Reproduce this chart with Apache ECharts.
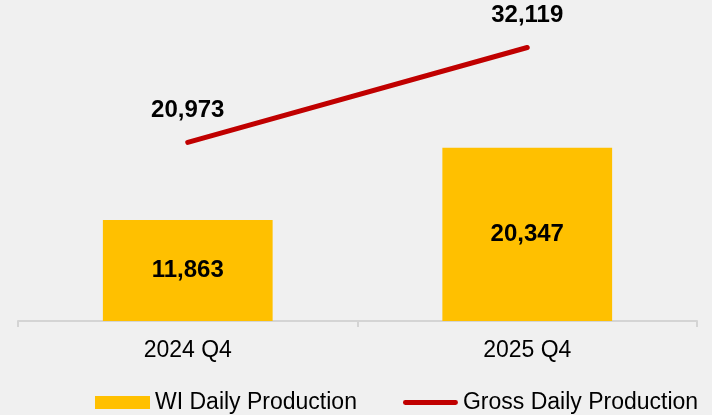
<!DOCTYPE html>
<html>
<head>
<meta charset="utf-8">
<script src="https://cdn.jsdelivr.net/npm/echarts@6/dist/echarts.min.js"></script>
<style>
  html, body { margin: 0; padding: 0; background: #f0f0f0; }
  #chart { width: 712px; height: 415px; }
</style>
</head>
<body>
<div id="chart"></div>
<script>
var categories = ['2024 Q4', '2025 Q4'];
var wiDaily = [11863, 20347];
var grossDaily = [20973, 32119];

var myChart = echarts.init(document.getElementById('chart'));
var fontName = '"Liberation Sans", Arial, sans-serif';
// 圆头线条图例
var lineIcon = 'path://M2.5,0 L54.5,0 A2.5,2.5 0 0 1 54.5,5 L2.5,5 A2.5,2.5 0 0 1 2.5,0 Z';
var option = {
    backgroundColor: '#f0f0f0',
    animation: false,
    grid: { left: 18, right: 15, top: 23, bottom: 94 },
    legend: {
        left: 90,
        top: 386,
        itemGap: 46,
        itemWidth: 55,
        itemHeight: 13,
        symbolKeepAspect: true,
        textStyle: { fontFamily: fontName, fontSize: 23, color: '#000' },
        data: [
            { name: 'WI Daily Production', icon: 'rect' },
            { name: 'Gross Daily Production', icon: lineIcon }
        ]
    },
    xAxis: {
        type: 'category',
        data: categories,
        axisLine: { lineStyle: { color: '#d4d4d4', width: 2 } },
        axisTick: { show: true, length: 6, lineStyle: { color: '#d4d4d4', width: 2 } },
        axisLabel: { fontFamily: fontName, fontSize: 23, color: '#000', margin: 18 }
    },
    yAxis: {
        type: 'value',
        min: 0,
        max: 35000,
        show: false,
        splitLine: { show: false }
    },
    series: [
        {
            name: 'WI Daily Production',
            type: 'bar',
            barWidth: '50%',
            data: wiDaily,
            itemStyle: { color: '#FFC000' },
            label: {
                show: true,
                position: 'inside',
                formatter: function (p) { return p.value.toLocaleString('en-US'); },
                fontFamily: fontName,
                fontSize: 24,
                fontWeight: 'bold',
                color: '#000'
            }
        },
        {
            name: 'Gross Daily Production',
            type: 'line',
            data: grossDaily,
            symbol: 'circle',
            symbolSize: 1,
            itemStyle: { color: '#C00000' },
            lineStyle: { color: '#C00000', width: 5, cap: 'round' },
            label: {
                show: true,
                position: 'top',
                distance: 20,
                formatter: function (p) { return p.value.toLocaleString('en-US'); },
                fontFamily: fontName,
                fontSize: 24,
                fontWeight: 'bold',
                color: '#000'
            }
        }
    ]
};
myChart.setOption(option);
</script>
</body>
</html>
